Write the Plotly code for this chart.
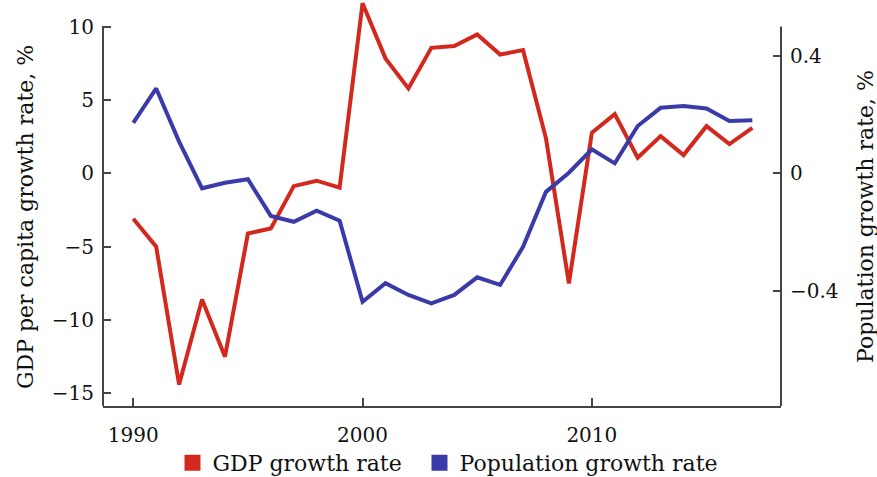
import plotly.graph_objects as go

# Annual series, 1990-2017
years = list(range(1990, 2018))
gdp_growth = [-3.1, -5.0, -14.4, -8.6, -12.5, -4.1, -3.75, -0.87, -0.5, -0.98,
              11.6, 7.84, 5.79, 8.56, 8.68, 9.47, 8.1, 8.4, 2.39, -7.5,
              2.77, 4.04, 1.07, 2.54, 1.25, 3.22, 2.0, 3.11]
pop_growth = [0.172, 0.289, 0.108, -0.051, -0.032, -0.020, -0.145, -0.165, -0.127, -0.161,
              -0.437, -0.374, -0.414, -0.443, -0.414, -0.354, -0.380, -0.250, -0.063, 0.002,
              0.082, 0.034, 0.161, 0.223, 0.229, 0.221, 0.178, 0.181]

x_ticks = [1990, 2000, 2010]
gdp_ticks = [-15, -10, -5, 0, 5, 10]
pop_ticks = [-0.4, 0, 0.4]

RED = "#d2281e"
BLUE = "#3a3aa8"
AXIS = "#444444"
TEXT = "#111111"
FONT = "DejaVu Serif"

gdp_range = [-15.86, 11.82]
pop_range = [-0.792, 0.590]
x_range = [1988.68, 2018.25]

fig = go.Figure()
fig.add_trace(go.Scatter(x=years, y=gdp_growth, mode="lines", yaxis="y",
                         line=dict(color=RED, width=4), showlegend=False))
fig.add_trace(go.Scatter(x=years, y=pop_growth, mode="lines", yaxis="y2",
                         line=dict(color=BLUE, width=4), showlegend=False))
# legend swatches, one per legend box
fig.add_trace(go.Scatter(x=[None], y=[None], mode="markers", name="GDP growth rate",
                         marker=dict(symbol="square", size=16, color=RED),
                         legend="legend"))
fig.add_trace(go.Scatter(x=[None], y=[None], mode="markers", name="Population growth rate",
                         marker=dict(symbol="square", size=16, color=BLUE),
                         legend="legend2"))

tick_font = dict(family=FONT, size=20, color=TEXT)
label_font = dict(family=FONT, size=22, color=TEXT)
legend_common = dict(orientation="h", xanchor="left", y=-0.14, yanchor="middle",
                     font=label_font, itemsizing="trace", bgcolor="rgba(0,0,0,0)")

fig.update_layout(
    width=877, height=477,
    margin=dict(l=103, r=96, t=0, b=71, autoexpand=False),
    paper_bgcolor="white", plot_bgcolor="white",
    font=dict(family=FONT, color=TEXT),
    xaxis=dict(range=x_range, tickvals=x_ticks, ticks="inside", ticklen=8,
               tickwidth=1.5, tickcolor=AXIS, showline=True, linecolor=AXIS,
               linewidth=2, showgrid=False, zeroline=False, tickfont=tick_font,
               ticklabelstandoff=10),
    yaxis=dict(range=gdp_range, tickvals=gdp_ticks, ticks="inside", ticklen=8,
               tickwidth=1.5, tickcolor=AXIS, showline=False, showgrid=False,
               zeroline=False, tickfont=tick_font, ticklabelstandoff=8),
    yaxis2=dict(range=pop_range, tickvals=pop_ticks, ticks="inside", ticklen=8,
                tickwidth=1.5, tickcolor=AXIS, showline=False, showgrid=False,
                zeroline=False, tickfont=tick_font, overlaying="y", side="right",
                ticklabelstandoff=8),
    legend=dict(x=0.1025, **legend_common),
    legend2=dict(x=0.4668, **legend_common),
    shapes=[
        dict(type="line", xref="paper", yref="y", x0=0, x1=0,
             y0=gdp_range[0], y1=10.05, line=dict(color=AXIS, width=2)),
        dict(type="line", xref="paper", yref="y2", x0=1, x1=1,
             y0=pop_range[0], y1=0.5, line=dict(color=AXIS, width=2)),
    ],
    annotations=[
        dict(text="GDP per capita growth rate, %", xref="paper", yref="paper",
             x=-0.115, y=(406 - 217) / 406, xanchor="center", yanchor="middle",
             textangle=-90, showarrow=False, font=label_font),
        dict(text="Population growth rate, %", xref="paper", yref="paper",
             x=1 + 84 / 678, y=(406 - 217) / 406, xanchor="center", yanchor="middle",
             textangle=-90, showarrow=False, font=label_font),
    ],
)

fig.write_html("out.html")
